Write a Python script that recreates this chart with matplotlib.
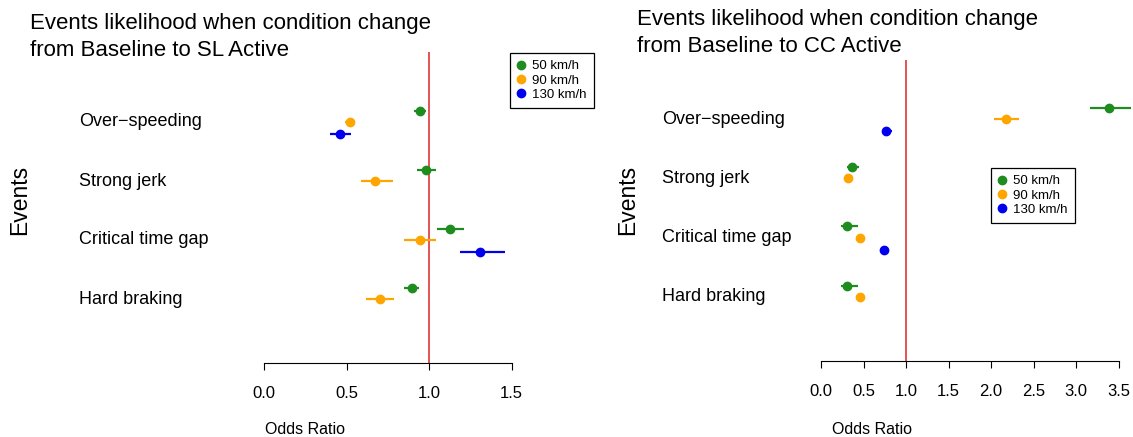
import numpy as np
import matplotlib
matplotlib.use("Agg")
import matplotlib.pyplot as plt
import matplotlib.transforms as mtransforms
from matplotlib.lines import Line2D

plt.rcParams['font.family'] = ['Liberation Sans', 'DejaVu Sans']

# categories (top to bottom)
events = ["Over\u2212speeding", "Strong jerk", "Critical time gap", "Hard braking"]
speeds = ["50 km/h", "90 km/h", "130 km/h"]
colors = ["#1f8c1f", "#ffa500", "#0000ee"]

# SL Active panel: odds ratio and CI per speed
sl_or_50 = [0.945, 0.98, 1.13, 0.895]
sl_lo_50 = [0.91, 0.93, 1.05, 0.85]
sl_hi_50 = [0.98, 1.04, 1.21, 0.94]
sl_or_90 = [0.524, 0.67, 0.945, 0.70]
sl_lo_90 = [0.49, 0.59, 0.85, 0.62]
sl_hi_90 = [0.55, 0.78, 1.04, 0.79]
sl_or_130 = [0.463, np.nan, 1.31, np.nan]
sl_lo_130 = [0.40, np.nan, 1.19, np.nan]
sl_hi_130 = [0.53, np.nan, 1.46, np.nan]

# CC Active panel
cc_or_50 = [3.39, 0.36, 0.31, 0.31]
cc_lo_50 = [3.16, 0.30, 0.23, 0.23]
cc_hi_50 = [3.65, 0.45, 0.44, 0.44]
cc_or_90 = [2.18, 0.32, 0.46, 0.46]
cc_lo_90 = [2.04, 0.27, 0.41, 0.41]
cc_hi_90 = [2.33, 0.38, 0.51, 0.51]
cc_or_130 = [0.77, np.nan, 0.74, np.nan]
cc_lo_130 = [0.72, np.nan, 0.69, np.nan]
cc_hi_130 = [0.84, np.nan, 0.80, np.nan]

sl_ticks = [0.0, 0.5, 1.0, 1.5]
cc_ticks = [0.0, 0.5, 1.0, 1.5, 2.0, 2.5, 3.0, 3.5]

W, H = 1133, 437
fig = plt.figure(figsize=(W / 100, H / 100), dpi=100)


def px_axes(x0, x1, ytop, ybot):
    return fig.add_axes([x0 / W, (H - ybot) / H, (x1 - x0) / W, (ybot - ytop) / H])


def panel(ax, series, ticks, xlim, ylim, label_x, ev_x, title, title_y, leg_xy):
    ax.set_xlim(*xlim)
    ax.set_ylim(*ylim)
    rows = np.arange(len(events), 0, -1)
    offsets = [0.19, 0.0, -0.2]
    for (orv, lo, hi), c, off in zip(series, colors, offsets):
        orv, lo, hi = np.array(orv), np.array(lo), np.array(hi)
        ax.errorbar(orv, rows + off, xerr=[orv - lo, hi - orv], fmt='o', color=c,
                    ms=6, elinewidth=1.6, capsize=0, clip_on=False, zorder=3)
    ax.axvline(1.0, color='#e03535', lw=1.2, zorder=1)
    for s in ['top', 'left', 'right']:
        ax.spines[s].set_visible(False)
    ax.spines['bottom'].set_bounds(ticks[0], ticks[-1])
    ax.spines['bottom'].set_linewidth(0.8)
    ax.set_yticks([])
    ax.set_xticks(ticks)
    ax.set_xticklabels([f"{t:.1f}" for t in ticks])
    ax.tick_params(axis='x', direction='out', length=5, width=0.8, pad=11.5, labelsize=12)

    tr = mtransforms.blended_transform_factory(fig.transFigure, ax.transData)
    for name, r in zip(events, rows):
        ax.text(label_x / W, r, name, transform=tr, ha='left', va='center', fontsize=13)
    fig.text(ev_x / W, 1 - 200 / H, "Events", rotation=90, ha='center', va='center', fontsize=16.5)
    fig.text(title[0] / W, 1 - title_y / H, title[1], ha='left', va='center',
             fontsize=16, linespacing=1.35)

    handles = [Line2D([], [], marker='o', ls='', color=c, ms=6) for c in colors]
    leg = ax.legend(handles, speeds, loc='upper left', bbox_to_anchor=(leg_xy[0] / W, 1 - leg_xy[1] / H),
                    bbox_transform=fig.transFigure, borderaxespad=0, fancybox=False,
                    edgecolor='black', fontsize=9.5, handlelength=0.6, handletextpad=0.5,
                    labelspacing=0.15, borderpad=0.55, framealpha=1)
    leg.get_frame().set_linewidth(0.9)


ax1 = px_axes(264, 602, 52, 363)
panel(ax1,
      [(sl_or_50, sl_lo_50, sl_hi_50), (sl_or_90, sl_lo_90, sl_hi_90), (sl_or_130, sl_lo_130, sl_hi_130)],
      sl_ticks, (0, 338 / 165), (1 - 64 / 59, 4 + 70 / 59), 79, 20,
      (30, "Events likelihood when condition change\nfrom Baseline to SL Active"), 37, (510, 53))
fig.text(265 / W, 1 - 429 / H, "Odds Ratio", ha='left', va='center', fontsize=11.5)

ax2 = px_axes(821, 1133, 60, 361)
panel(ax2,
      [(cc_or_50, cc_lo_50, cc_hi_50), (cc_or_90, cc_lo_90, cc_hi_90), (cc_or_130, cc_lo_130, cc_hi_130)],
      cc_ticks, (0, 312 / 85), (1 - 64 / 59.3, 4 + 59 / 59.3), 662, 628,
      (637, "Events likelihood when condition change\nfrom Baseline to CC Active"), 33, (991, 168))
fig.text(832 / W, 1 - 429 / H, "Odds Ratio", ha='left', va='center', fontsize=11.5)

fig.savefig("out.png", dpi=100)
